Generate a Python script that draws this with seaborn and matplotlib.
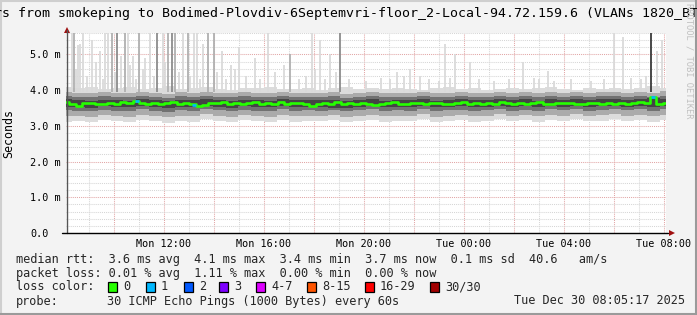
import numpy as np
import matplotlib
matplotlib.use("Agg")
import matplotlib.pyplot as plt
import seaborn as sns
from matplotlib.patches import Rectangle
from matplotlib.lines import Line2D
from matplotlib.ticker import FixedLocator, MultipleLocator, FuncFormatter

# ---------------- data ----------------
title = ("Last 24 Hours from smokeping to Bodimed-Plovdiv-6Septemvri-floor_2-"
         "Local-94.72.159.6 (VLANs 1820_BT")

x_start, x_end = 8.09, 32.09          # hours since Mon 00:00
tick_hours = [12, 16, 20, 24, 28, 32]
tick_labels = ["Mon 12:00", "Mon 16:00", "Mon 20:00", "Tue 00:00", "Tue 04:00", "Tue 08:00"]
y_ticks = [0, 1, 2, 3, 4, 5]
y_labels = ["0.0", "1.0 m", "2.0 m", "3.0 m", "4.0 m", "5.0 m"]

# median rtt (ms), one value every ~15 min
median_ms = [3.68, 3.60, 3.56, 3.63, 3.64, 3.62, 3.60, 3.63, 3.61, 3.66, 3.63, 3.70, 3.64, 3.62, 3.65, 3.60,
             3.63, 3.66, 3.62, 3.64, 3.61, 3.55, 3.58, 3.65, 3.63, 3.67, 3.62, 3.64, 3.60, 3.63, 3.66, 3.61,
             3.64, 3.62, 3.67, 3.60, 3.63, 3.65, 3.61, 3.57, 3.62, 3.64, 3.60, 3.66, 3.62, 3.63, 3.61, 3.65,
             3.62, 3.58, 3.60, 3.64, 3.66, 3.62, 3.60, 3.63, 3.64, 3.61, 3.63, 3.65, 3.62, 3.60, 3.64, 3.66,
             3.62, 3.63, 3.60, 3.64, 3.62, 3.68, 3.65, 3.62, 3.63, 3.60, 3.64, 3.66, 3.62, 3.61, 3.64, 3.63,
             3.65, 3.62, 3.60, 3.64, 3.63, 3.61, 3.65, 3.62, 3.64, 3.60, 3.63, 3.66, 3.64, 3.82, 3.62, 3.65]
loss1_hours = [10.92, 13.21, 31.57]   # samples with 1/30 lost

# smoke percentiles (ms), one value every ~30 min
smoke_min = [3.12, 3.15, 3.10, 3.17, 3.13, 3.11, 3.16, 3.14, 3.09, 3.15, 3.12, 3.18, 3.13, 3.10, 3.16, 3.14,
             3.12, 3.17, 3.11, 3.15, 3.13, 3.16, 3.10, 3.14, 3.17, 3.12, 3.15, 3.13, 3.18, 3.11, 3.14, 3.16,
             3.12, 3.15, 3.19, 3.13, 3.16, 3.12, 3.17, 3.14, 3.18, 3.13, 3.15, 3.19, 3.14, 3.16, 3.12, 3.17]
smoke_p10 = [3.27, 3.29, 3.25, 3.30, 3.28, 3.26, 3.31, 3.27, 3.24, 3.29, 3.27, 3.32, 3.28, 3.25, 3.30, 3.28,
             3.26, 3.31, 3.27, 3.29, 3.28, 3.30, 3.25, 3.28, 3.31, 3.27, 3.29, 3.28, 3.32, 3.26, 3.29, 3.30,
             3.27, 3.29, 3.32, 3.28, 3.30, 3.27, 3.31, 3.29, 3.32, 3.28, 3.30, 3.33, 3.29, 3.31, 3.27, 3.31]
smoke_p30 = [3.44, 3.42, 3.41, 3.45, 3.43, 3.42, 3.46, 3.43, 3.40, 3.44, 3.43, 3.47, 3.44, 3.41, 3.45, 3.43,
             3.42, 3.46, 3.42, 3.44, 3.43, 3.45, 3.41, 3.44, 3.46, 3.42, 3.44, 3.43, 3.47, 3.42, 3.44, 3.45,
             3.43, 3.44, 3.47, 3.43, 3.45, 3.42, 3.46, 3.44, 3.47, 3.43, 3.45, 3.47, 3.44, 3.46, 3.43, 3.46]
smoke_p40 = [3.54, 3.52, 3.51, 3.55, 3.53, 3.52, 3.55, 3.53, 3.50, 3.54, 3.53, 3.56, 3.54, 3.51, 3.55, 3.53,
             3.52, 3.55, 3.52, 3.54, 3.53, 3.50, 3.51, 3.54, 3.55, 3.52, 3.54, 3.53, 3.56, 3.52, 3.54, 3.55,
             3.53, 3.54, 3.56, 3.53, 3.55, 3.52, 3.55, 3.54, 3.56, 3.53, 3.55, 3.56, 3.54, 3.55, 3.53, 3.55]
smoke_p60 = [3.74, 3.72, 3.71, 3.73, 3.72, 3.71, 3.74, 3.72, 3.70, 3.73, 3.72, 3.75, 3.73, 3.71, 3.73, 3.72,
             3.71, 3.74, 3.72, 3.73, 3.72, 3.73, 3.70, 3.73, 3.74, 3.71, 3.73, 3.72, 3.75, 3.71, 3.73, 3.74,
             3.72, 3.73, 3.75, 3.72, 3.74, 3.71, 3.74, 3.73, 3.75, 3.72, 3.74, 3.75, 3.73, 3.74, 3.78, 3.74]
smoke_p70 = [3.84, 3.82, 3.80, 3.83, 3.81, 3.80, 3.84, 3.82, 3.79, 3.83, 3.81, 3.85, 3.82, 3.80, 3.83, 3.81,
             3.80, 3.84, 3.81, 3.82, 3.81, 3.83, 3.79, 3.82, 3.84, 3.80, 3.82, 3.81, 3.85, 3.80, 3.82, 3.83,
             3.81, 3.82, 3.85, 3.81, 3.83, 3.80, 3.84, 3.82, 3.85, 3.81, 3.83, 3.85, 3.82, 3.84, 3.81, 3.84]
smoke_p90 = [3.95, 3.93, 3.91, 3.94, 3.92, 3.91, 3.95, 3.93, 3.90, 3.94, 3.92, 3.96, 3.93, 3.91, 3.94, 3.92,
             3.91, 3.95, 3.92, 3.93, 3.92, 3.94, 3.90, 3.93, 3.95, 3.91, 3.93, 3.92, 3.96, 3.91, 3.93, 3.94,
             3.92, 3.93, 3.96, 3.92, 3.94, 3.91, 3.95, 3.93, 3.96, 3.92, 3.94, 3.96, 3.93, 3.95, 3.92, 3.97]
smoke_max = [4.08, 4.05, 4.10, 4.03, 4.07, 4.09, 4.04, 4.06, 4.11, 4.02, 4.06, 4.08, 4.04, 4.01, 4.07, 4.05,
             4.09, 4.02, 4.04, 4.06, 4.01, 4.05, 4.08, 4.03, 4.06, 4.02, 4.07, 4.04, 4.00, 4.05, 4.09, 4.03,
             4.06, 4.01, 4.04, 4.07, 4.02, 4.05, 4.08, 4.03, 4.01, 4.06, 4.04, 4.07, 4.02, 4.05, 4.11, 4.06]

# outlier pings (spikes): time (h), highest rtt (ms), number of high pings
spike_hours = [8.33, 8.41, 8.57, 8.65, 8.77, 9.13, 9.45, 9.65, 9.75, 9.93, 10.13, 10.29, 10.45, 10.57,
               10.77, 11.01, 11.25, 11.45, 11.73, 11.97, 12.17, 12.33, 12.45, 12.77, 12.97, 13.21, 13.33,
               13.57, 13.77, 14.01, 14.33, 14.69, 15.01, 15.65, 16.17, 17.05, 17.93, 18.25, 18.65, 19.05,
               21.33, 21.85, 22.25, 23.25, 23.65, 24.25, 26.37, 27.37, 30.01, 30.37, 31.49, 31.73, 31.93,
               8.50, 8.95, 9.30, 9.55, 10.05, 10.65, 10.90, 11.15, 11.60, 12.05, 12.60, 13.05, 13.45,
               14.15, 14.50, 14.85, 15.30, 15.85, 16.45, 16.80, 17.40, 17.70, 18.05, 18.45, 18.90,
               19.40, 20.10, 20.70, 21.05, 21.60, 22.60, 23.00, 23.45, 24.60, 25.20, 25.80, 26.80,
               27.00, 27.60, 28.30, 29.10, 29.60, 30.70, 31.10, 31.30]
spike_tops = [5.6, 5.6, 5.27, 5.3, 5.6, 5.4, 5.1, 5.6, 5.6, 5.6, 5.6, 4.95, 5.6, 5.6,
              4.95, 5.6, 4.9, 5.6, 5.6, 5.6, 5.6, 5.6, 5.6, 5.6, 5.6, 5.6, 5.6,
              5.3, 5.6, 5.6, 5.1, 4.7, 5.2, 4.9, 5.6, 5.0, 5.6, 5.4, 5.0, 5.6,
              4.5, 4.6, 4.4, 5.3, 5.0, 4.8, 4.8, 4.55, 5.6, 5.5, 5.6, 5.1, 5.4,
              4.6, 4.4, 4.8, 4.3, 4.5, 4.7, 4.3, 4.6, 4.4, 4.8, 4.5, 4.4, 4.3,
              4.5, 4.3, 4.6, 4.4, 4.3, 4.5, 4.7, 4.3, 4.4, 4.6, 4.3, 4.5,
              4.3, 4.25, 4.35, 4.3, 4.4, 4.3, 4.25, 4.35, 4.3, 4.25, 4.3, 4.35,
              4.3, 4.25, 4.3, 4.25, 4.3, 4.35, 4.3, 4.4]
spike_counts = [1, 4, 1, 1, 1, 1, 1, 1, 1, 3, 5, 1, 3, 1,
                1, 3, 1, 1, 5, 1, 3, 6, 3, 1, 3, 1, 1,
                1, 3, 3, 1, 1, 1, 1, 1, 3, 1, 1, 1, 5,
                1, 1, 1, 1, 1, 1, 1, 1, 1, 1, 9, 1, 1,
                1, 1, 1, 1, 1, 1, 1, 1, 1, 1, 1, 1, 1,
                1, 1, 1, 1, 1, 1, 1, 1, 1, 1, 1, 1,
                1, 1, 1, 1, 1, 1, 1, 1, 1, 1, 1, 1,
                1, 1, 1, 1, 1, 1, 1, 1]

rtt_avg, rtt_max, rtt_min, rtt_now, rtt_sd, rtt_ams = 3.6, 4.1, 3.4, 3.7, 0.1, 40.6
loss_avg, loss_max, loss_min, loss_now = 0.01, 1.11, 0.00, 0.00
loss_labels = ["0", "1", "2", "3", "4-7", "8-15", "16-29", "30/30"]
loss_colors = ["#26ff00", "#00b8ff", "#0059ff", "#7e00ff", "#dd00ff", "#ff5500", "#ff0000", "#a10000"]
probe_text = "30 ICMP Echo Pings (1000 Bytes) every 60s"
stamp_text = "Tue Dec 30 08:05:17 2025"

# ---------------- drawing ----------------
sns.set_theme(style="white")
plt.rcParams['font.family'] = ['DejaVu Sans Mono', 'DejaVu Sans']

W, H = 697, 315
BG = "#f3f3f3"
fig = plt.figure(figsize=(W / 100, H / 100), dpi=100, facecolor=BG)
ax = fig.add_axes([66 / W, (H - 233) / H, 600 / W, 200 / H])
ax.set_facecolor("white")

def fx(x):
    return x / W

def fy(y):
    return 1 - y / H

# smoke
smoke_hours = np.linspace(x_start, x_end, len(smoke_min))
ax.fill_between(smoke_hours, smoke_min, smoke_max, step="mid", color="#dcdcdc", lw=0, zorder=2)
ax.fill_between(smoke_hours, smoke_p10, smoke_p90, step="mid", color="#ababab", lw=0, zorder=3)
ax.fill_between(smoke_hours, smoke_p30, smoke_p70, step="mid", color="#727272", lw=0, zorder=4)
ax.fill_between(smoke_hours, smoke_p40, smoke_p60, step="mid", color="#454545", lw=0, zorder=4.5)

# spikes
def shade(c):
    if c >= 8:
        return "#3a3a3a"
    if c >= 5:
        return "#8c8c8c"
    if c >= 3:
        return "#b0b0b0"
    return "#dadada"

spike_base = [3.95] * len(spike_hours)
ax.vlines(spike_hours, spike_base, spike_tops, colors=[shade(c) for c in spike_counts],
          lw=1.3, zorder=2.5)

# median
median_hours = np.linspace(x_start + 0.01, x_end - 0.01, len(median_ms))
sns.lineplot(x=median_hours, y=median_ms, ax=ax, color=loss_colors[0], lw=1.9,
             drawstyle="steps-mid", zorder=6, legend=False)
loss1_vals = np.interp(loss1_hours, median_hours, median_ms)
ax.hlines(loss1_vals, np.array(loss1_hours) - 0.08, np.array(loss1_hours) + 0.08,
          colors=loss_colors[1], lw=1.9, zorder=7)

# axes limits / grid
ax.set_xlim(x_start, x_end)
ax.set_ylim(0, 5.6)
major_x = list(range(10, 33, 2))
lab_map = dict(zip(tick_hours, tick_labels))
ax.xaxis.set_major_locator(FixedLocator(major_x))
ax.xaxis.set_major_formatter(FuncFormatter(lambda v, p: lab_map.get(int(round(v)), "")))
ax.xaxis.set_minor_locator(MultipleLocator(1))
ax.yaxis.set_major_locator(FixedLocator(y_ticks))
ax.set_yticklabels(y_labels)
ax.yaxis.set_minor_locator(MultipleLocator(0.2))

dot = (0, (1, 1))
ax.grid(which="minor", color="#d6d6d6", lw=0.75, ls=dot, zorder=0)
ax.grid(which="major", color="#e2a6a6", lw=0.75, ls=dot, zorder=0)
ax.set_axisbelow(True)

for s in ax.spines.values():
    s.set_visible(False)

ax.tick_params(axis="x", which="both", length=0, pad=4, labelsize=7.3, colors="black")
ax.tick_params(axis="y", which="major", length=2.5, width=0.75, color="#999999",
               pad=23.4, labelsize=7.3, labelcolor="black")
ax.tick_params(axis="y", which="minor", length=1.5, width=0.75, color="#cccccc")
for lab in ax.get_yticklabels():
    lab.set_horizontalalignment("left")

ax.set_ylabel("Seconds", fontsize=8.4, color="black")
ax.yaxis.set_label_coords(-(66 - 15) / 600, 0.5)

# axis lines with arrows
fig.add_artist(Line2D([fx(66.5), fx(66.5)], [fy(233), fy(30)], color="#555555", lw=1.0))
fig.add_artist(Line2D([fx(62), fx(668)], [fy(233), fy(233)], color="black", lw=1.0))
ax.plot([0.001], [1.0 + 3 / 200], transform=ax.transAxes, marker="^", ms=4.5, color="#a01010",
        clip_on=False, zorder=10, markeredgewidth=0)
ax.plot([1.0 + 6 / 600], [0], transform=ax.transAxes, marker=">", ms=4.5, color="#a01010",
        clip_on=False, zorder=10, markeredgewidth=0)

# title
fig.text(fx(698), fy(13), title, ha="right", va="center", fontsize=9.5, color="black")
# watermark
fig.text(fx(689.5), fy(3), "RRDTOOL / TOBI OETIKER", rotation=-90, ha="center", va="top",
         fontsize=6.3, color="#c0c0c0")

# legend
fs = 8.55
line1 = (f"median rtt:  {rtt_avg:.1f} ms avg  {rtt_max:.1f} ms max  {rtt_min:.1f} ms min  "
         f"{rtt_now:.1f} ms now  {rtt_sd:.1f} ms sd  {rtt_ams:.1f}   am/s")
line2 = (f"packet loss: {loss_avg:.2f} % avg  {loss_max:.2f} % max  {loss_min:.2f} % min  "
         f"{loss_now:.2f} % now")
fig.text(fx(16), fy(259), line1, fontsize=fs, va="center", ha="left")
fig.text(fx(16), fy(273), line2, fontsize=fs, va="center", ha="left")
fig.text(fx(16), fy(287), "loss color:", fontsize=fs, va="center", ha="left")
box_left = [108, 146, 184, 219, 256, 307, 365, 430]
for bx, lab, col in zip(box_left, loss_labels, loss_colors):
    fig.add_artist(Rectangle((fx(bx), fy(291.5)), 9 / W, 10 / H, facecolor=col,
                             edgecolor="black", lw=0.9))
    fig.text(fx(bx + 15), fy(287), lab, fontsize=fs, va="center", ha="left")
fig.text(fx(16), fy(301), "probe:", fontsize=fs, va="center", ha="left")
fig.text(fx(107), fy(301), probe_text, fontsize=fs, va="center", ha="left")
fig.text(fx(514), fy(301), stamp_text, fontsize=fs, va="center", ha="left")

# frame
fig.add_artist(Line2D([fx(1), fx(1)], [fy(0), fy(315)], color="#cfcfcf", lw=1.5))
fig.add_artist(Line2D([fx(0), fx(697)], [fy(1), fy(1)], color="#cfcfcf", lw=1.5))
fig.add_artist(Line2D([fx(0), fx(697)], [fy(314), fy(314)], color="#9a9a9a", lw=1.5))
fig.add_artist(Line2D([fx(696), fx(696)], [fy(0), fy(315)], color="#9a9a9a", lw=1.5))

fig.savefig("out.png", dpi=100, facecolor=BG)
